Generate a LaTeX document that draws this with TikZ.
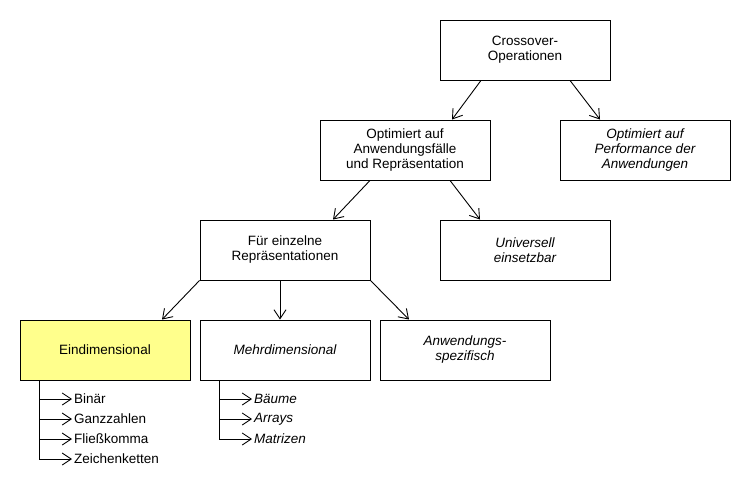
\documentclass[tikz,border=0pt]{standalone}
\usepackage{fontspec}
\setmainfont{Liberation Sans}
\usetikzlibrary{arrows.meta}
\definecolor{hilite}{RGB}{255,255,140}

\begin{document}
\begin{tikzpicture}[x=1pt, y=-1pt,
    box/.style={draw, line width=0.9pt, minimum width=170pt, minimum height=60pt, align=center, font=\fontsize{13.5}{15}\selectfont},
    ibox/.style={box, font=\fontsize{13.5}{15}\selectfont\itshape},
    item/.style={anchor=west, inner sep=2pt, font=\fontsize{13.5}{15}\selectfont},
    iitem/.style={item, font=\fontsize{13.5}{15}\selectfont\itshape},
    tip/.style={line width=0.9pt, arrows={-Straight Barb[length=9pt, width=12pt]}}]
                \useasboundingbox (0,0) rectangle (750,500);

                \node[box] (crossover) at (525,50) {Crossover-\\Operationen};
                \node[box] (optanw) at (405,150) {Optimiert auf\\Anwendungsfälle\\und Repräsentation};
                \node[ibox] (optperf) at (645,150) {Optimiert auf\\Performance der\\Anwendungen};
                \draw[tip] ([xshift=-44pt]crossover.south) -- ([xshift=47pt]optanw.north);
                \draw[tip] ([xshift=45pt]crossover.south) -- ([xshift=-45pt]optperf.north);

                \node[box] (einzeln) at (285,250) {Für einzelne\\Repräsentationen};
                \node[ibox] (universell) at (525,250) {Universell\\einsetzbar};
                \draw[tip] ([xshift=-35pt]optanw.south) -- ([xshift=48pt]einzeln.north);
                \draw[tip] ([xshift=45pt]optanw.south) -- ([xshift=-45pt]universell.north);

                \node[box, fill=hilite] (eindim) at (105,350) {Eindimensional};
                \node[ibox] (mehrdim) at (285,350) {Mehrdimensional};
                \node[ibox] (anwspez) at (465,350) {Anwendungs-\\spezifisch};
                \draw[tip] (einzeln.south west) -- ([xshift=57pt]eindim.north);
                \draw[tip] ([xshift=-5pt]einzeln.south) -- ([xshift=-5pt]mehrdim.north);
                \draw[tip] (einzeln.south east) -- ([xshift=-56pt]anwspez.north);

                \node[item] (binaer) at (72,399) {Binär};
                \node[item] (ganzzahl) at (72,419) {Ganzzahlen};
                \node[item] (fliess) at (72,439) {Fließkomma};
                \node[item] (zeichen) at (72,459) {Zeichenketten};
                \draw[tip] ([xshift=20pt]eindim.south west) |- (binaer.west);
                \draw[tip] ([xshift=20pt]eindim.south west) |- (ganzzahl.west);
                \draw[tip] ([xshift=20pt]eindim.south west) |- (fliess.west);
                \draw[tip] ([xshift=20pt]eindim.south west) |- (zeichen.west);

                \node[iitem] (baeume) at (252,399) {Bäume};
                \node[iitem] (arrays) at (252,419) {Arrays};
                \node[iitem] (matrizen) at (252,439) {Matrizen};
                \draw[tip] ([xshift=20pt]mehrdim.south west) |- (baeume.west);
                \draw[tip] ([xshift=20pt]mehrdim.south west) |- (arrays.west);
                \draw[tip] ([xshift=20pt]mehrdim.south west) |- (matrizen.west);
            \end{tikzpicture}
\end{document}
